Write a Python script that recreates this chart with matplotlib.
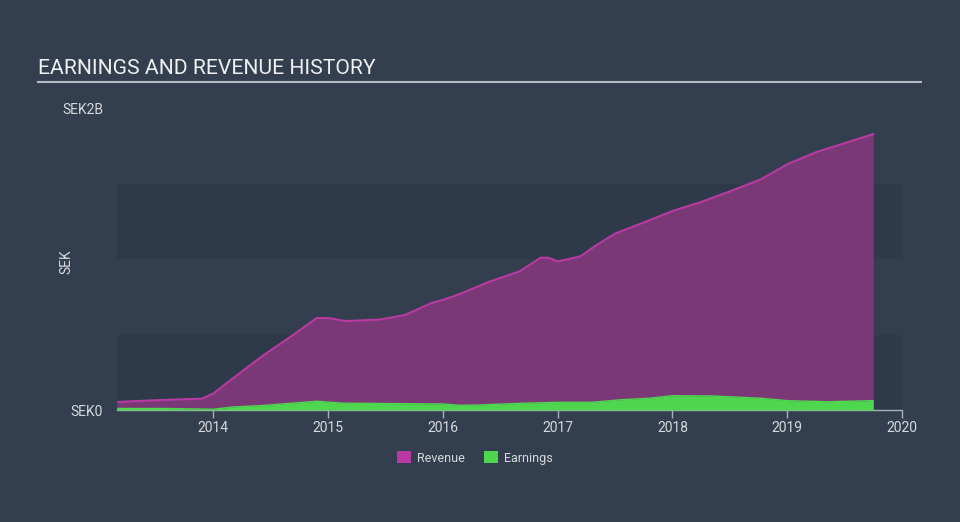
import matplotlib
matplotlib.use("Agg")
import matplotlib.pyplot as plt
from matplotlib.patches import Patch

plt.rcParams['font.family'] = ['Roboto', 'DejaVu Sans']

# --- data (SEK billions) ---
rev_years = [2013.16, 2013.5, 2013.9, 2014.0, 2014.17, 2014.43, 2014.7, 2014.9, 2015.0,
             2015.15, 2015.45, 2015.67, 2015.9, 2016.0, 2016.15, 2016.4, 2016.67,
             2016.85, 2016.92, 2017.0, 2017.2, 2017.33, 2017.5, 2017.77, 2018.0,
             2018.25, 2018.5, 2018.77, 2019.0, 2019.25, 2019.5, 2019.75]
revenue = [0.053, 0.065, 0.075, 0.11, 0.21, 0.36, 0.50, 0.61, 0.61,
           0.59, 0.60, 0.63, 0.71, 0.73, 0.77, 0.85, 0.92,
           1.01, 1.01, 0.985, 1.02, 1.09, 1.17, 1.25, 1.32,
           1.38, 1.45, 1.53, 1.63, 1.71, 1.77, 1.83]

earn_years = [2013.16, 2013.6, 2014.0, 2014.17, 2014.43, 2014.9, 2015.13, 2015.5,
              2016.0, 2016.15, 2016.3, 2016.7, 2017.0, 2017.3, 2017.55, 2017.8,
              2018.0, 2018.35, 2018.77, 2019.0, 2019.35, 2019.75]
earnings = [0.01, 0.01, 0.005, 0.02, 0.03, 0.058, 0.045, 0.043,
            0.04, 0.031, 0.033, 0.045, 0.051, 0.051, 0.068, 0.078,
            0.095, 0.093, 0.078, 0.062, 0.055, 0.062]

x_ticks = [2014, 2015, 2016, 2017, 2018, 2019, 2020]

BG = '#333f4f'
BAND = '#2e3a49'
REV_FILL = '#7a3876'
REV_LINE = '#b93aa3'
EARN = '#4fd64f'
TXT = '#d6d9dc'

fig = plt.figure(figsize=(9.6, 5.22), dpi=100, facecolor=BG)
ax = fig.add_axes([117 / 960, 1 - 410 / 522, (902 - 117) / 960, (410 - 108.5) / 522])
ax.set_facecolor(BG)

# alternating bands
for lo in (0.0, 1.0):
    ax.axhspan(lo, lo + 0.5, color=BAND, zorder=0, lw=0)

ax.fill_between(rev_years, revenue, color=REV_FILL, lw=0, zorder=2)
ax.plot(rev_years, revenue, color=REV_LINE, lw=1.5, zorder=3)
ax.fill_between(earn_years, earnings, color=EARN, lw=0, zorder=4)
ax.plot(earn_years, earnings, color=EARN, lw=1, zorder=4)

ax.set_xlim(2013.16, 2020.0)
ax.set_ylim(0, 2.0)

ax.set_xticks(x_ticks)
ax.set_xticklabels([str(t) for t in x_ticks])
ax.set_yticks([0, 2.0])
ax.set_yticklabels(['SEK0', 'SEK2B'])
ax.tick_params(axis='x', colors='#aab0b8', labelcolor=TXT, labelsize=10, length=6, width=1, pad=2)
ax.tick_params(axis='y', length=0, labelcolor=TXT, labelsize=10, pad=10)

for s in ('top', 'right', 'left'):
    ax.spines[s].set_visible(False)
ax.spines['bottom'].set_color('#aab0b8')
ax.spines['bottom'].set_linewidth(1)

fig.text(66 / 960, 1 - 262 / 522, 'SEK', rotation=90, color=TXT, fontsize=10,
         ha='center', va='center')

# title + underline
fig.text(38 / 960, 1 - 68 / 522, 'EARNINGS AND REVENUE HISTORY', color='#f0f0f0',
         fontsize=15.2, ha='left', va='center')
fig.add_artist(plt.Line2D([38 / 960, 921 / 960], [1 - 82 / 522, 1 - 82 / 522],
                          color='#b5bac0', lw=1.5))

handles = [Patch(facecolor=REV_LINE, label='Revenue'), Patch(facecolor=EARN, label='Earnings')]
leg = fig.legend(handles=handles, loc='center', bbox_to_anchor=(475 / 960, 1 - 458 / 522),
                 ncol=2, frameon=False, fontsize=9, handlelength=1.1, handleheight=1.1,
                 columnspacing=1.5, handletextpad=0.5)
for t in leg.get_texts():
    t.set_color(TXT)

fig.savefig('out.png', dpi=100, facecolor=BG)
